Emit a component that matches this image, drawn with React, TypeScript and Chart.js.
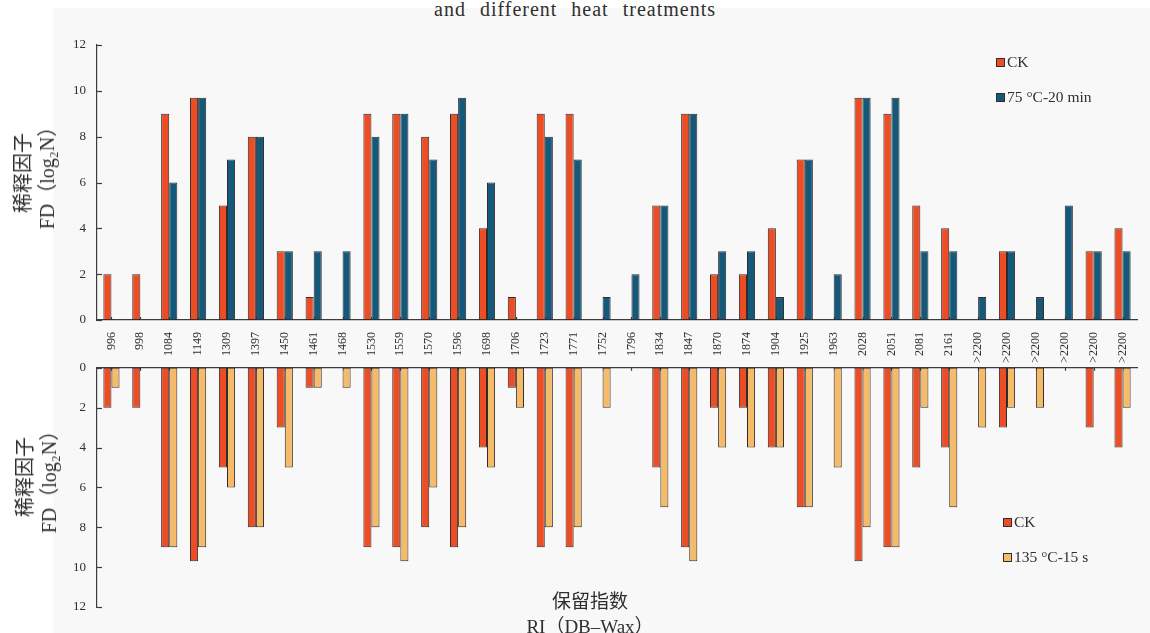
import React, { useEffect, useRef } from 'react';
import { Chart, registerables } from 'chart.js';

Chart.register(...registerables);

// Retention indices of the aroma compounds (x axis)
const categories = [
  '996', '998', '1084', '1149', '1309', '1397', '1450', '1461', '1468', '1530',
  '1559', '1570', '1596', '1698', '1706', '1723', '1771', '1752', '1796', '1834',
  '1847', '1870', '1874', '1904', '1925', '1963', '2028', '2051', '2081', '2161',
  '>2200', '>2200', '>2200', '>2200', '>2200', '>2200',
];

// FD factors, log2 N
const ckValues = [
  2, 2, 9, 9.7, 5, 8, 3, 1, 0, 9,
  9, 8, 9, 4, 1, 9, 9, 0, 0, 5,
  9, 2, 2, 4, 7, 0, 9.7, 9, 5, 4,
  0, 3, 0, 0, 3, 4,
];
const heat75Values = [
  0, 0, 6, 9.7, 7, 8, 3, 3, 3, 8,
  9, 7, 9.7, 6, 0, 8, 7, 1, 2, 5,
  9, 3, 3, 1, 7, 2, 9.7, 9.7, 3, 3,
  1, 3, 1, 5, 3, 3,
];
const heat135Values = [
  1, 0, 9, 9, 6, 8, 5, 1, 1, 8,
  9.7, 6, 8, 5, 2, 8, 8, 2, 0, 7,
  9.7, 4, 4, 4, 7, 5, 8, 9, 2, 7,
  3, 2, 2, 0, 0, 2,
];

const yMin = 0;
const yMax = 12;
const yStep = 2;

const seriesLabels = ['CK', '75 °C-20 min', '135 °C-15 s'];
const yTitleLines = ['稀释因子', 'FD（log₂N）'];
const xTitleLines = ['保留指数', 'RI（DB–Wax）'];
const pageTitle = 'and different heat treatments';

const SERIF = "'Liberation Serif', 'DejaVu Serif', 'Noto Sans CJK SC', serif";
const COLOR_CK = '#EC4D25';
const COLOR_75 = '#14587A';
const COLOR_135 = '#F6BB69';
const EDGE = '#332c2c';
const AXIS = '#3c3c3c';
const TEXT = '#2f2f2f';

// Short tick marks drawn on the inside of the axes
const innerTicks = {
  id: 'innerTicks',
  beforeDatasetsDraw(chart: any) {
    const { ctx, chartArea } = chart;
    const xs = chart.scales.x;
    const ys = chart.scales.y;
    ctx.save();
    ctx.strokeStyle = AXIS;
    ctx.lineWidth = 1.2;
    ys.ticks.forEach((t: any) => {
      const py = Math.round(ys.getPixelForValue(t.value)) + 0.5;
      ctx.beginPath();
      ctx.moveTo(chartArea.left, py);
      ctx.lineTo(chartArea.left + 5, py);
      ctx.stroke();
    });
    const atTop = xs.options.position === 'top';
    const base = atTop ? chartArea.top : chartArea.bottom;
    const dir = atTop ? 1 : -1;
    xs.ticks.forEach((_t: any, i: number) => {
      const px = Math.round(xs.getPixelForTick(i)) + 0.5;
      ctx.beginPath();
      ctx.moveTo(px, base);
      ctx.lineTo(px, base + dir * 3);
      ctx.stroke();
    });
    ctx.restore();
  },
};

function barSet(label: string, data: number[], color: string) {
  return {
    label,
    data,
    backgroundColor: color,
    borderColor: EDGE,
    borderWidth: 1,
    borderSkipped: false,
    barPercentage: 1,
    categoryPercentage: 0.56,
  };
}

function yScale(reverse: boolean) {
  return {
    min: yMin,
    max: yMax,
    reverse,
    ticks: {
      stepSize: yStep,
      color: TEXT,
      padding: 11,
      font: { family: SERIF, size: 13 },
    },
    grid: { display: false, drawTicks: false },
    border: { display: true, color: AXIS, width: 1.2 },
    afterFit(s: any) {
      s.width = 97;
    },
  };
}

function TopPanel() {
  const ref = useRef<HTMLCanvasElement>(null);
  useEffect(() => {
    const chart = new Chart(ref.current!, {
      type: 'bar',
      data: {
        labels: categories,
        datasets: [
          barSet(seriesLabels[0], ckValues, COLOR_CK),
          barSet(seriesLabels[1], heat75Values, COLOR_75),
        ] as any,
      },
      options: {
        animation: false,
        responsive: false,
        layout: { padding: { left: 0, top: 45, right: 13, bottom: 0 } },
        plugins: { legend: { display: false }, tooltip: { enabled: false } },
        scales: {
          x: {
            ticks: {
              autoSkip: false,
              minRotation: 90,
              maxRotation: 90,
              padding: 12,
              color: TEXT,
              font: { family: SERIF, size: 12 },
            },
            grid: { display: false, drawTicks: false },
            border: { display: true, color: AXIS, width: 1.2 },
            afterFit(s: any) {
              s.height = 45;
            },
          },
          y: yScale(false),
        } as any,
      },
      plugins: [innerTicks],
    });
    return () => chart.destroy();
  }, []);
  return (
    <canvas
      ref={ref}
      width={1150}
      height={365}
      style={{ position: 'absolute', left: 0, top: 0, width: 1150, height: 365 }}
    />
  );
}

function BottomPanel() {
  const ref = useRef<HTMLCanvasElement>(null);
  useEffect(() => {
    const chart = new Chart(ref.current!, {
      type: 'bar',
      data: {
        labels: categories,
        datasets: [
          barSet(seriesLabels[0], ckValues, COLOR_CK),
          barSet(seriesLabels[2], heat135Values, COLOR_135),
        ] as any,
      },
      options: {
        animation: false,
        responsive: false,
        layout: { padding: { left: 0, top: 2, right: 13, bottom: 26 } },
        plugins: { legend: { display: false }, tooltip: { enabled: false } },
        scales: {
          x: {
            position: 'top',
            ticks: { display: false },
            grid: { display: false, drawTicks: false },
            border: { display: true, color: AXIS, width: 1.2 },
            afterFit(s: any) {
              s.height = 10;
            },
          },
          y: yScale(true),
        } as any,
      },
      plugins: [innerTicks],
    });
    return () => chart.destroy();
  }, []);
  return (
    <canvas
      ref={ref}
      width={1150}
      height={284}
      style={{ position: 'absolute', left: 0, top: 349, width: 1150, height: 284 }}
    />
  );
}

function LegendItem({ color, label, left, top }: { color: string; label: string; left: number; top: number }) {
  return (
    <div
      style={{
        position: 'absolute',
        left,
        top,
        display: 'flex',
        alignItems: 'center',
        fontFamily: SERIF,
        fontSize: 15.5,
        color: TEXT,
        whiteSpace: 'nowrap',
        lineHeight: '18px',
      }}
    >
      <span
        style={{
          display: 'inline-block',
          width: 7,
          height: 7,
          background: color,
          border: `1.5px solid ${EDGE}`,
          marginRight: 2,
        }}
      />
      <span>{label}</span>
    </div>
  );
}

function AxisTitleY({ cx, cy }: { cx: number; cy: number }) {
  return (
    <div
      style={{
        position: 'absolute',
        left: cx,
        top: cy,
        transform: 'translate(-50%, -50%) rotate(-90deg)',
        textAlign: 'center',
        fontFamily: SERIF,
        fontSize: 20,
        lineHeight: '24px',
        color: TEXT,
        whiteSpace: 'nowrap',
      }}
    >
      <div>{yTitleLines[0]}</div>
      <div>{yTitleLines[1]}</div>
    </div>
  );
}

export default function App() {
  return (
    <div style={{ position: 'absolute', left: 0, top: 0, width: 1150, height: 633, background: '#ffffff', overflow: 'hidden' }}>
      <div style={{ position: 'absolute', left: 53, top: 8, right: 0, bottom: 0, background: '#f8f8f8' }} />
      <div
        style={{
          position: 'absolute',
          left: 0,
          width: 1150,
          top: -1,
          textAlign: 'center',
          fontFamily: SERIF,
          fontSize: 20,
          lineHeight: '20px',
          letterSpacing: '1px',
          wordSpacing: '8px',
          color: TEXT,
          whiteSpace: 'nowrap',
        }}
      >
        {pageTitle}
      </div>
      <TopPanel />
      <BottomPanel />
      <AxisTitleY cx={35} cy={173} />
      <AxisTitleY cx={37} cy={477} />
      <LegendItem color={COLOR_CK} label={seriesLabels[0]} left={996} top={53} />
      <LegendItem color={COLOR_75} label={seriesLabels[1]} left={996} top={88} />
      <LegendItem color={COLOR_CK} label={seriesLabels[0]} left={1003} top={513} />
      <LegendItem color={COLOR_135} label={seriesLabels[2]} left={1003} top={548} />
      <div
        style={{
          position: 'absolute',
          left: 390,
          width: 400,
          top: 589,
          textAlign: 'center',
          fontFamily: SERIF,
          fontSize: 19,
          lineHeight: '25px',
          color: TEXT,
          whiteSpace: 'nowrap',
        }}
      >
        <div>{xTitleLines[0]}</div>
        <div>{xTitleLines[1]}</div>
      </div>
    </div>
  );
}
